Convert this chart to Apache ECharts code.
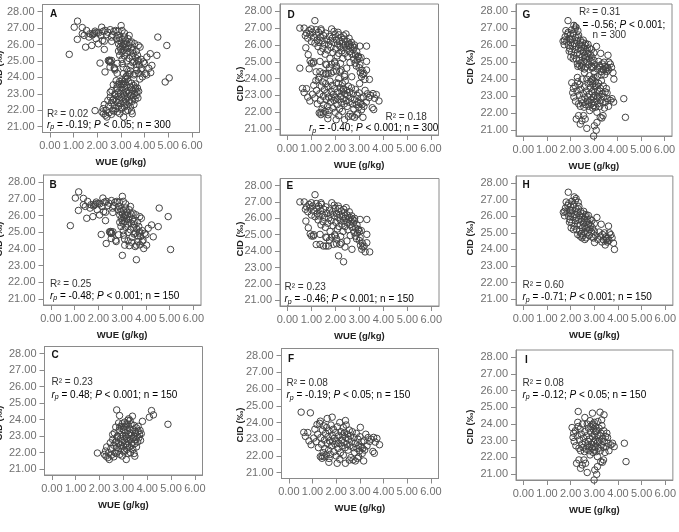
<!DOCTYPE html>
<html><head><meta charset="utf-8">
<script src="https://cdn.jsdelivr.net/npm/echarts@6/dist/echarts.min.js"></script>
<style>html,body{margin:0;padding:0;background:#fff}#c{width:679px;height:532px}</style>
</head><body><div id="c"></div><script>
const xTicks=[0,1,2,3,4,5,6];
const yTicks=[21,22,23,24,25,26,27,28];
const xTitle='WUE (g/kg)';
const yTitle='CID (‰)';

const panelB=[[0.82,25.40],[1.03,27.05],[1.17,27.42],[1.16,26.31],[1.37,27.03],[1.37,26.65],[1.51,25.84],[1.55,26.85],[1.69,26.65],[1.77,25.94],[1.84,26.65],[1.91,26.81],[1.88,26.70],[1.80,26.58],[1.95,26.35],[1.98,26.72],[2.05,26.04],[2.12,24.87],[2.19,27.05],[2.22,26.24],[2.30,25.70],[2.33,26.85],[2.33,24.33],[2.44,26.75],[2.47,25.03],[2.50,24.98],[2.54,24.93],[2.52,25.05],[2.56,24.95],[2.54,24.63],[2.61,25.03],[2.61,26.19],[2.73,24.53],[2.78,26.85],[2.82,26.35],[2.85,26.55],[2.88,26.80],[2.90,26.04],[2.92,26.25],[2.95,26.40],[3.01,27.15],[3.01,23.62],[2.97,25.84],[3.04,25.54],[3.00,25.70],[3.02,26.10],[3.05,26.30],[3.06,24.83],[3.08,25.90],[3.10,25.65],[3.11,24.23],[3.12,26.00],[3.15,26.45],[3.15,25.30],[3.18,25.80],[3.20,26.20],[3.21,26.04],[3.22,25.50],[3.25,24.49],[3.28,25.75],[3.30,26.35],[3.32,25.94],[3.35,25.15],[3.38,26.10],[3.39,25.54],[3.42,24.70],[3.45,25.80],[3.46,26.15],[3.48,25.30],[3.50,24.90],[3.53,25.44],[3.55,24.95],[3.58,26.05],[3.60,24.23],[3.60,23.36],[3.62,25.20],[3.65,24.80],[3.67,24.43],[3.70,25.35],[3.72,24.95],[3.74,25.94],[3.74,25.03],[3.78,24.75],[3.81,25.84],[3.85,25.10],[3.88,24.53],[3.91,24.03],[3.95,24.94],[4.03,24.23],[4.10,25.24],[4.24,25.44],[4.31,24.73],[4.52,25.34],[4.56,26.45],[4.94,25.94],[5.04,23.97],[2.40,26.60],[2.60,26.45],[2.70,26.80],[2.65,26.60],[2.30,26.20],[2.15,26.55],[2.05,26.70],[1.65,26.45],[1.45,26.55],[2.90,25.60],[2.95,25.35],[3.05,25.10],[3.25,25.00],[3.10,24.60],[2.85,24.85],[3.40,24.40],[3.30,24.20],[3.55,24.15],[3.75,24.25],[3.85,24.45],[4.00,24.85],[2.75,24.45],[3.15,26.70],[3.35,26.55],[3.50,25.65],[3.65,25.60],[3.05,26.85],[2.55,26.90],[2.25,26.80]];

const panelC=[[1.91,21.98],[2.20,21.90],[2.25,22.10],[2.27,21.79],[2.30,22.35],[2.35,21.70],[2.38,22.00],[2.41,21.59],[2.45,22.60],[2.50,21.85],[2.48,22.25],[2.55,23.10],[2.55,22.80],[2.60,22.45],[2.62,23.20],[2.65,22.00],[2.68,23.55],[2.70,22.70],[2.72,24.59],[2.72,22.30],[2.75,23.00],[2.78,22.10],[2.80,23.80],[2.80,22.55],[2.82,23.35],[2.84,24.25],[2.85,21.90],[2.88,22.85],[2.90,23.10],[2.90,22.25],[2.92,23.60],[2.95,22.60],[2.95,21.80],[2.98,23.00],[3.00,22.40],[3.00,23.40],[3.02,22.05],[3.05,22.75],[3.05,23.85],[3.08,23.20],[3.10,22.50],[3.10,23.00],[3.12,21.59],[3.12,23.60],[3.15,22.20],[3.15,22.90],[3.18,23.35],[3.19,23.96],[3.20,22.65],[3.22,23.10],[3.22,24.05],[3.25,22.35],[3.25,23.50],[3.28,22.85],[3.30,23.20],[3.30,22.00],[3.32,23.75],[3.35,22.60],[3.35,23.05],[3.38,24.21],[3.40,23.40],[3.40,22.20],[3.42,22.90],[3.45,23.65],[3.45,21.95],[3.48,21.79],[3.48,22.55],[3.50,23.20],[3.52,22.80],[3.55,23.50],[3.55,22.35],[3.58,23.00],[3.60,22.65],[3.62,23.30],[3.65,22.90],[3.68,23.10],[3.70,23.35],[3.72,22.75],[3.75,23.15],[3.80,23.90],[4.09,24.15],[4.18,24.55],[4.26,24.29],[4.87,23.72],[2.85,23.55],[2.95,23.75],[3.05,23.55],[3.18,22.45],[2.65,22.60],[2.75,22.95],[3.28,23.95],[3.15,23.75],[2.60,21.75],[2.70,21.95],[3.35,22.45],[3.45,23.00],[3.05,22.15],[2.88,22.45],[3.62,23.60],[3.20,21.95]];

const panelE=[[0.52,27.00],[0.70,27.00],[0.75,26.55],[0.80,26.70],[0.85,26.40],[0.90,26.85],[0.94,26.63],[0.77,25.83],[0.87,25.42],[1.01,24.92],[1.08,24.92],[1.00,26.20],[1.05,26.75],[1.10,26.45],[1.15,27.44],[1.15,26.10],[1.20,26.90],[1.22,26.60],[1.25,26.30],[1.28,25.90],[1.30,26.75],[1.32,26.15],[1.36,25.02],[1.36,24.41],[1.38,26.45],[1.40,25.60],[1.42,26.85],[1.45,26.25],[1.48,25.80],[1.50,24.31],[1.52,26.55],[1.55,26.05],[1.58,25.45],[1.60,26.70],[1.61,24.31],[1.64,24.82],[1.65,26.30],[1.68,25.70],[1.71,24.31],[1.72,26.00],[1.75,26.50],[1.78,25.20],[1.80,26.25],[1.82,25.85],[1.85,26.95],[1.88,26.40],[1.90,25.55],[1.92,24.41],[1.95,26.15],[1.97,25.00],[1.99,24.92],[2.00,26.60],[2.02,25.75],[2.05,26.30],[2.08,25.35],[2.10,26.05],[2.12,26.75],[2.13,23.71],[2.15,25.50],[2.18,26.20],[2.20,24.41],[2.20,25.90],[2.22,24.90],[2.25,26.45],[2.28,25.65],[2.30,26.10],[2.32,25.20],[2.34,23.35],[2.35,25.85],[2.38,26.35],[2.40,25.50],[2.42,26.00],[2.45,26.65],[2.48,24.62],[2.48,25.75],[2.50,26.20],[2.52,25.30],[2.55,25.95],[2.58,26.40],[2.60,25.60],[2.62,24.95],[2.65,25.85],[2.68,26.15],[2.69,24.11],[2.70,25.45],[2.72,25.95],[2.75,25.70],[2.78,25.15],[2.80,25.85],[2.83,24.92],[2.85,25.40],[2.88,24.75],[2.90,25.60],[2.92,25.10],[2.95,25.30],[2.97,25.32],[3.00,24.65],[3.00,25.20],[3.03,25.93],[3.03,24.82],[3.05,24.35],[3.08,25.25],[3.10,24.11],[3.12,24.50],[3.15,24.25],[3.20,24.30],[3.24,23.95],[3.31,25.93],[3.31,24.51],[3.31,25.02],[3.43,23.95],[1.00,26.95],[1.10,25.00],[1.20,24.40],[0.95,25.05],[1.60,24.85],[1.75,24.65],[1.85,24.85],[2.05,24.75],[2.25,24.50],[2.40,24.25],[2.05,24.45],[1.40,26.95],[1.95,26.80],[2.15,26.60],[2.35,26.55],[2.60,26.05],[2.80,26.00]];

const panelF=[[0.52,24.62],[0.91,24.58],[0.63,23.41],[0.70,23.17],[0.80,23.40],[0.85,22.90],[0.94,22.67],[1.05,23.07],[1.10,23.60],[1.15,22.85],[1.19,23.88],[1.22,23.30],[1.25,22.50],[1.30,23.95],[1.33,24.08],[1.33,21.96],[1.35,23.10],[1.38,22.70],[1.40,21.86],[1.42,23.55],[1.45,22.20],[1.48,23.80],[1.50,22.95],[1.52,22.45],[1.55,23.35],[1.58,22.05],[1.60,23.70],[1.62,24.24],[1.62,22.75],[1.65,23.15],[1.68,22.35],[1.69,21.62],[1.70,23.50],[1.72,22.90],[1.75,22.10],[1.78,23.85],[1.80,22.60],[1.83,24.32],[1.83,23.25],[1.85,22.85],[1.88,23.60],[1.90,22.25],[1.92,23.05],[1.95,22.70],[1.98,23.40],[2.00,22.00],[2.02,22.90],[2.04,21.56],[2.05,23.75],[2.08,22.45],[2.10,23.20],[2.12,22.75],[2.15,24.00],[2.18,22.20],[2.20,23.45],[2.22,22.95],[2.25,22.60],[2.28,23.25],[2.30,22.05],[2.30,23.70],[2.32,22.80],[2.35,23.40],[2.38,22.50],[2.39,24.12],[2.39,21.56],[2.40,23.10],[2.42,23.85],[2.45,22.70],[2.48,23.30],[2.50,22.35],[2.52,23.00],[2.55,23.55],[2.58,22.60],[2.60,23.20],[2.62,21.90],[2.65,22.85],[2.68,23.45],[2.71,21.76],[2.72,22.50],[2.75,23.10],[2.78,22.20],[2.80,22.75],[2.81,21.70],[2.85,23.35],[2.88,22.45],[2.90,21.85],[2.92,23.00],[2.95,22.60],[2.98,22.30],[3.00,23.15],[3.02,23.71],[3.05,22.55],[3.08,22.85],[3.10,22.15],[3.12,22.45],[3.16,21.70],[3.18,22.90],[3.20,22.35],[3.25,23.30],[3.30,22.60],[3.35,23.10],[3.41,22.87],[3.48,23.00],[3.55,22.27],[3.58,23.11],[3.61,22.16],[3.65,22.83],[3.72,23.05],[3.83,22.67],[1.50,21.95],[1.70,21.85],[2.15,21.80],[2.55,21.75],[2.95,21.95],[1.40,22.00]];

const panelH=[[1.69,26.24],[1.74,26.03],[1.78,26.50],[1.81,26.86],[1.85,26.20],[1.88,26.65],[1.90,27.45],[1.91,26.76],[1.92,26.00],[1.95,26.40],[1.98,25.80],[2.00,26.60],[2.02,26.15],[2.05,25.60],[2.05,26.90],[2.08,26.35],[2.10,25.95],[2.12,26.70],[2.15,27.17],[2.15,25.40],[2.18,26.10],[2.20,25.75],[2.22,26.45],[2.23,27.07],[2.25,25.20],[2.25,25.95],[2.28,26.25],[2.30,25.55],[2.32,26.85],[2.33,26.45],[2.35,25.80],[2.38,25.10],[2.38,26.05],[2.40,25.45],[2.42,26.30],[2.45,25.70],[2.45,24.95],[2.48,25.95],[2.50,25.30],[2.51,24.83],[2.52,26.15],[2.55,25.60],[2.58,25.05],[2.58,25.85],[2.60,25.40],[2.62,26.00],[2.65,25.25],[2.65,24.70],[2.68,25.65],[2.70,25.00],[2.71,25.31],[2.72,25.80],[2.75,25.50],[2.78,24.85],[2.80,25.20],[2.82,25.83],[2.85,25.45],[2.88,25.05],[2.90,24.75],[2.92,25.30],[2.97,24.69],[3.00,25.10],[3.01,24.42],[3.05,24.85],[3.11,25.93],[3.15,24.60],[3.20,25.05],[3.25,24.80],[3.29,25.52],[3.32,24.45],[3.35,24.90],[3.39,24.58],[3.43,25.00],[3.46,24.27],[3.48,24.75],[3.50,24.55],[3.52,24.65],[3.55,24.45],[3.58,24.70],[3.60,25.41],[3.62,24.55],[3.64,25.00],[3.70,24.89],[3.75,24.70],[3.81,24.38],[3.85,24.00],[2.02,25.30],[2.12,25.20],[2.30,24.90],[2.48,24.70],[2.60,24.60],[2.40,24.80],[1.95,25.65],[2.35,26.60],[2.55,26.30],[2.65,26.10],[2.75,26.05],[2.90,25.75],[3.00,25.55],[2.20,26.95],[2.00,26.35],[1.75,26.30]];

const panelI=[[2.06,23.79],[2.10,23.20],[2.13,23.45],[2.15,22.95],[2.20,23.60],[2.22,22.70],[2.25,21.65],[2.28,23.30],[2.30,24.10],[2.32,24.75],[2.32,23.85],[2.35,21.85],[2.35,22.55],[2.38,23.05],[2.40,23.70],[2.42,21.35],[2.42,22.40],[2.45,23.40],[2.48,22.80],[2.49,21.55],[2.50,24.00],[2.52,22.60],[2.55,23.15],[2.56,21.85],[2.58,22.35],[2.60,24.39],[2.60,23.55],[2.62,22.90],[2.63,21.65],[2.65,22.50],[2.68,23.30],[2.70,21.10],[2.70,24.00],[2.72,22.70],[2.75,23.75],[2.78,22.40],[2.80,23.10],[2.82,24.20],[2.82,22.15],[2.85,23.50],[2.88,22.80],[2.90,23.95],[2.90,22.55],[2.92,24.65],[2.92,23.25],[2.95,22.30],[2.95,23.70],[2.98,22.95],[2.99,20.65],[3.00,24.10],[3.00,23.40],[3.02,21.25],[3.02,22.65],[3.05,23.85],[3.05,23.05],[3.08,22.35],[3.10,20.99],[3.10,23.60],[3.12,22.85],[3.13,21.45],[3.13,22.05],[3.15,24.15],[3.15,23.30],[3.18,22.55],[3.20,23.75],[3.22,23.00],[3.24,24.71],[3.25,22.40],[3.27,21.75],[3.28,23.45],[3.30,22.75],[3.31,24.25],[3.32,23.90],[3.34,21.71],[3.35,23.15],[3.38,22.60],[3.39,21.85],[3.40,23.60],[3.41,24.55],[3.42,22.95],[3.45,22.30],[3.48,23.25],[3.50,22.65],[3.53,23.45],[3.56,23.19],[3.58,22.85],[3.62,22.40],[3.70,22.75],[3.77,22.85],[3.84,22.65],[4.27,22.85],[4.34,21.75],[2.75,22.95],[2.85,23.85],[2.95,24.00],[3.05,23.55],[3.15,22.95],[2.80,22.65],[3.25,23.30],[3.00,22.45]];

// panels A, D, G hold all 300 plants: union of the two 150-plant subsets
const panelA=panelB.concat(panelC);
const panelD=panelE.concat(panelF);
const panelG=panelH.concat(panelI);

const statR2={A:'0.02',B:'0.25',C:'0.23',D:'0.18',E:'0.23',F:'0.08',G:'0.31',H:'0.60',I:'0.08'};
const statR={A:'-0.19',B:'-0.48',C:'0.48',D:'-0.40',E:'-0.46',F:'-0.19',G:'-0.56',H:'-0.71',I:'-0.12'};
const statP={A:'0.05',B:'0.001',C:'0.001',D:'0.001',E:'0.001',F:'0.05',G:'0.001',H:'0.001',I:'0.05'};
const statN={A:'300',B:'150',C:'150',D:'300',E:'150',F:'150',G:'300',H:'150',I:'150'};

const FONT='Liberation Sans, Arial, sans-serif';
const layout=[
 {id:'A',data:panelA,g:[42.5,4.5,157,128],yt:[-1,68],lt:[50,14],r2:[47,114],rp:[47,125]},
 {id:'D',data:panelD,g:[280,4,158.5,131],yt:[240,84],lt:[287.5,15],r2:[385.5,117.5],rp:[309,128.5]},
 {id:'G',data:panelG,g:[516,4,156,132],yt:[470.5,67],lt:[522.5,15],r2:[579,12.5],rp:[572.5,25],n3:[592.5,35.5]},
 {id:'B',data:panelB,g:[43.5,175,157.5,130],yt:[-1,239],lt:[49.5,185],r2:[50,284.5],rp:[50,296]},
 {id:'E',data:panelE,g:[280,178.5,159,127.5],yt:[240.5,239],lt:[286.5,186],r2:[284.5,287.5],rp:[284.5,299.5]},
 {id:'H',data:panelH,g:[516,176,157,129],yt:[470.5,238],lt:[522.5,185.5],r2:[522.5,285.5],rp:[522.5,297.5]},
 {id:'C',data:panelC,g:[44.5,346.5,158,128.5],yt:[-1,423],lt:[51.5,355],r2:[51.5,382.5],rp:[51.5,395]},
 {id:'F',data:panelF,g:[281.5,348.5,157,130],yt:[240.5,425],lt:[288,359],r2:[286.5,383.5],rp:[286.5,395.5]},
 {id:'I',data:panelI,g:[516,350,157,130],yt:[470.5,427],lt:[525,360],r2:[522.5,383.5],rp:[522.5,395]}
];

const XMIN=-0.31,XMAX=6.32,YMIN=20.65,YMAX=28.43;
const grids=[],xAxes=[],yAxes=[],series=[],graphics=[];
const rich={
 n:{fontSize:10,color:'#333',fontFamily:FONT},
 i:{fontSize:10,color:'#333',fontStyle:'italic',fontFamily:FONT},
 s:{fontSize:7,color:'#333',fontStyle:'italic',fontFamily:FONT,padding:[5,0,0,0]}
};
layout.forEach((p,k)=>{
 grids.push({left:p.g[0],top:p.g[1],width:p.g[2],height:p.g[3],show:true,borderColor:'#8a8a8a',borderWidth:1,backgroundColor:'transparent'});
 xAxes.push({gridIndex:k,type:'value',min:XMIN,max:XMAX,
  axisLine:{show:true,onZero:false,lineStyle:{color:'#8a8a8a'}},
  axisTick:{show:true,customValues:xTicks,length:5,lineStyle:{color:'#8a8a8a'}},
  axisLabel:{customValues:xTicks,formatter:v=>v.toFixed(2),color:'#707070',fontSize:11,margin:8,fontFamily:FONT},
  splitLine:{show:false}});
 yAxes.push({gridIndex:k,type:'value',min:YMIN,max:YMAX,
  axisLine:{show:true,onZero:false,lineStyle:{color:'#8a8a8a'}},
  axisTick:{show:true,customValues:yTicks,length:5,lineStyle:{color:'#8a8a8a'}},
  axisLabel:{customValues:yTicks,formatter:v=>v.toFixed(2),color:'#707070',fontSize:11,margin:8,fontFamily:FONT},
  splitLine:{show:false}});
 series.push({type:'scatter',xAxisIndex:k,yAxisIndex:k,data:p.data,symbol:'circle',symbolSize:6.5,
  itemStyle:{color:'rgba(0,0,0,0)',borderColor:'#444',borderWidth:1,opacity:1},silent:true});
 const xMid=p.g[0]+p.g[2]*(3-XMIN)/(XMAX-XMIN);
 const bottom=p.g[1]+p.g[3];
 graphics.push({type:'text',x:xMid,y:bottom+30,style:{text:xTitle,font:'bold 9.5px '+FONT,fill:'#222',align:'center',verticalAlign:'middle'}});
 graphics.push({type:'text',x:p.yt[0],y:p.yt[1],rotation:Math.PI/2,style:{text:yTitle,font:'bold 9.5px '+FONT,fill:'#222',align:'center',verticalAlign:'middle'}});
 graphics.push({type:'text',x:p.lt[0],y:p.lt[1],style:{text:p.id,font:'bold 10px '+FONT,fill:'#111',align:'left',verticalAlign:'middle'}});
 graphics.push({type:'text',x:p.r2[0],y:p.r2[1],style:{text:'R² = '+statR2[p.id],font:'10px '+FONT,fill:'#333',align:'left',verticalAlign:'middle'}});
 let rpText='{i|r}{s|p}{n| = '+statR[p.id]+'; }{i|P}{n| < '+statP[p.id]+';'+(p.n3?'':' n = '+statN[p.id])+'}';
 graphics.push({type:'text',x:p.rp[0],y:p.rp[1],style:{text:rpText,rich:rich,align:'left',verticalAlign:'middle'}});
 if(p.n3) graphics.push({type:'text',x:p.n3[0],y:p.n3[1],style:{text:'n = '+statN[p.id],font:'10px '+FONT,fill:'#333',align:'left',verticalAlign:'middle'}});
});

const chart=echarts.init(document.getElementById('c'),null,{renderer:'canvas'});
chart.setOption({animation:false,backgroundColor:'#fff',grid:grids,xAxis:xAxes,yAxis:yAxes,series:series,graphic:graphics});
</script></body></html>
